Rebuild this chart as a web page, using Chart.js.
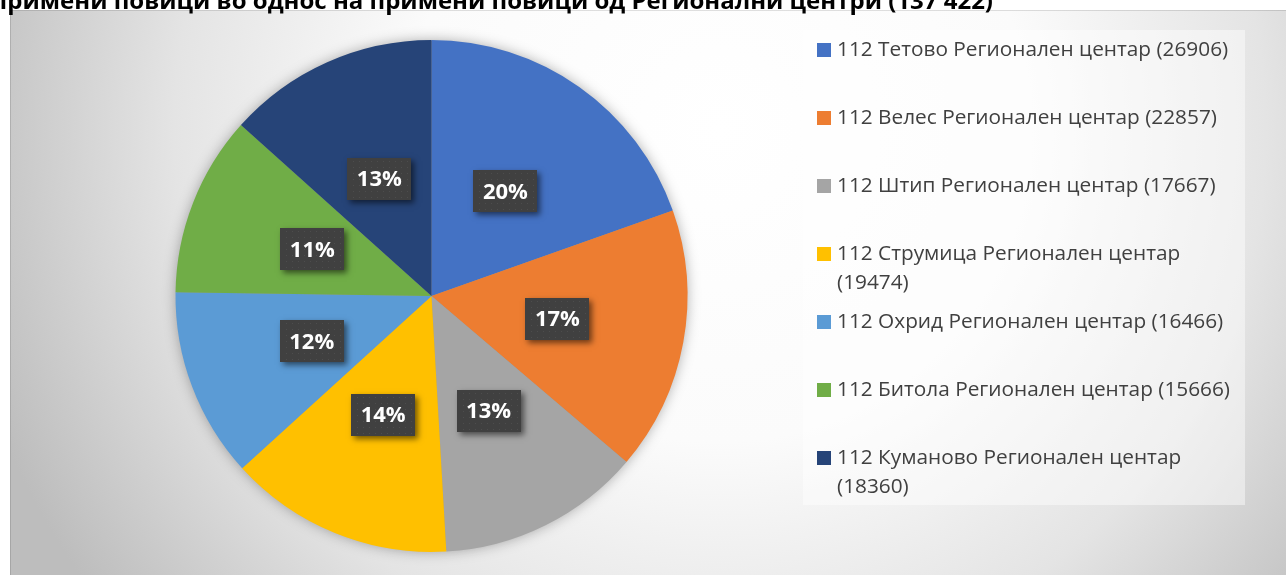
<!DOCTYPE html>
<html>
<head>
<meta charset="utf-8">
<script src="https://cdn.jsdelivr.net/npm/chart.js@4.4.1/dist/chart.umd.min.js"></script>
<style>
  body { margin: 0; background: #fff; overflow: hidden; }
  #wrap { position: relative; width: 1286px; height: 575px; }
</style>
</head>
<body>
<div id="wrap"><canvas id="myChart"></canvas></div>
<script>
// podatoci //
const titleText = 'Примени повици во однос на примени повици од Регионални центри (137 422)';
const centri = ['Тетово', 'Велес', 'Штип', 'Струмица', 'Охрид', 'Битола', 'Куманово'];
const povici = [26906, 22857, 17667, 19474, 16466, 15666, 18360];
const boi = ['#4472C4', '#ED7D31', '#A5A5A5', '#FFC000', '#5B9BD5', '#70AD47', '#264478'];

const labels = centri.map((c, i) => '112 ' + c + ' Регионален центар (' + povici[i] + ')');
const vkupno = povici.reduce((a, b) => a + b, 0);

// pozadina so gradient //
const pozadina = {
  id: 'pozadina',
  beforeDraw(chart) {
    const c = chart.ctx;
    c.save();
    c.fillStyle = '#fff';
    c.fillRect(0, 0, chart.width, chart.height);
    const g = c.createRadialGradient(720, 130, 0, 720, 130, 780);
    g.addColorStop(0, '#ffffff');
    g.addColorStop(0.4, '#fbfbfb');
    g.addColorStop(0.7, '#e4e4e4');
    g.addColorStop(1, '#bdbdbd');
    c.fillStyle = g;
    c.fillRect(10, 10, chart.width - 10, chart.height - 10);
    c.strokeStyle = 'rgba(0,0,0,0.12)';
    c.strokeRect(10.5, 10.5, chart.width, chart.height);
    // naslov (isecen gore)
    c.fillStyle = '#000';
    c.font = 'bold 24px "Open Sans"';
    c.textAlign = 'right';
    c.textBaseline = 'alphabetic';
    c.fillText(titleText, 993, 9);
    c.restore();
  },
  beforeDatasetsDraw(chart) {
    // senka pod pitata
    const arc = chart.getDatasetMeta(0).data[0];
    const c = chart.ctx;
    c.save();
    c.shadowColor = 'rgba(0,0,0,0.35)';
    c.shadowBlur = 14;
    c.fillStyle = '#999';
    c.beginPath();
    c.arc(arc.x, arc.y, arc.outerRadius - 1, 0, Math.PI * 2);
    c.fill();
    c.restore();
  }
};

// procenti vo temni kutii //
const procenti = {
  id: 'procenti',
  afterDatasetsDraw(chart) {
    const c = chart.ctx;
    chart.getDatasetMeta(0).data.forEach((arc, i) => {
      const p = arc.getCenterPoint();
      const w = 64, h = 42;
      const x = Math.round(p.x - w / 2), y = Math.round(p.y - h / 2);
      c.save();
      c.shadowColor = 'rgba(0,0,0,0.55)';
      c.shadowBlur = 6;
      c.shadowOffsetX = 3;
      c.shadowOffsetY = 3;
      c.fillStyle = '#404040';
      c.fillRect(x, y, w, h);
      c.restore();
      c.save();
      c.fillStyle = '#4d4d4d';
      for (let yy = y + 3; yy < y + h; yy += 6) {
        for (let xx = x + 3 + ((yy - y) % 12 ? 3 : 0); xx < x + w; xx += 6) {
          c.fillRect(xx, yy, 1, 1);
        }
      }
      c.fillStyle = '#fff';
      c.font = 'bold 22px "Open Sans"';
      c.textAlign = 'center';
      c.textBaseline = 'middle';
      c.fillText(Math.round(povici[i] / vkupno * 100) + '%', p.x, p.y + 1);
      c.restore();
    });
  }
};

// legenda desno //
const legenda = {
  id: 'legenda',
  afterDraw(chart) {
    const c = chart.ctx;
    c.save();
    c.fillStyle = 'rgba(255,255,255,0.45)';
    c.fillRect(803, 30, 442, 475);
    c.font = '20.8px "Open Sans"';
    c.textBaseline = 'middle';
    labels.forEach((t, i) => {
      const y = 50 + i * 68;
      c.fillStyle = boi[i];
      c.fillRect(817, y - 7, 14, 14);
      c.fillStyle = '#404040';
      if (c.measureText(t).width > 400) {
        const k = t.lastIndexOf(' (');
        c.fillText(t.slice(0, k), 837, y);
        c.fillText(t.slice(k + 1), 837, y + 29);
      } else {
        c.fillText(t, 837, y);
      }
    });
    c.restore();
  }
};

const ctx = document.getElementById('myChart');

new Chart(ctx, {
  type: 'pie',
  data: {
    labels: labels,
    datasets: [{
      data: povici,
      backgroundColor: boi,
      borderWidth: 0,
      hoverOffset: 0
    }]
  },
  options: {
    responsive: true,
    maintainAspectRatio: false,
    animation: false,
    layout: { padding: { left: 175, right: 598, top: 40, bottom: 23 } },
    plugins: {
      legend: { display: false },
      tooltip: { enabled: false }
    }
  },
  plugins: [pozadina, procenti, legenda]
});
</script>
</body>
</html>
